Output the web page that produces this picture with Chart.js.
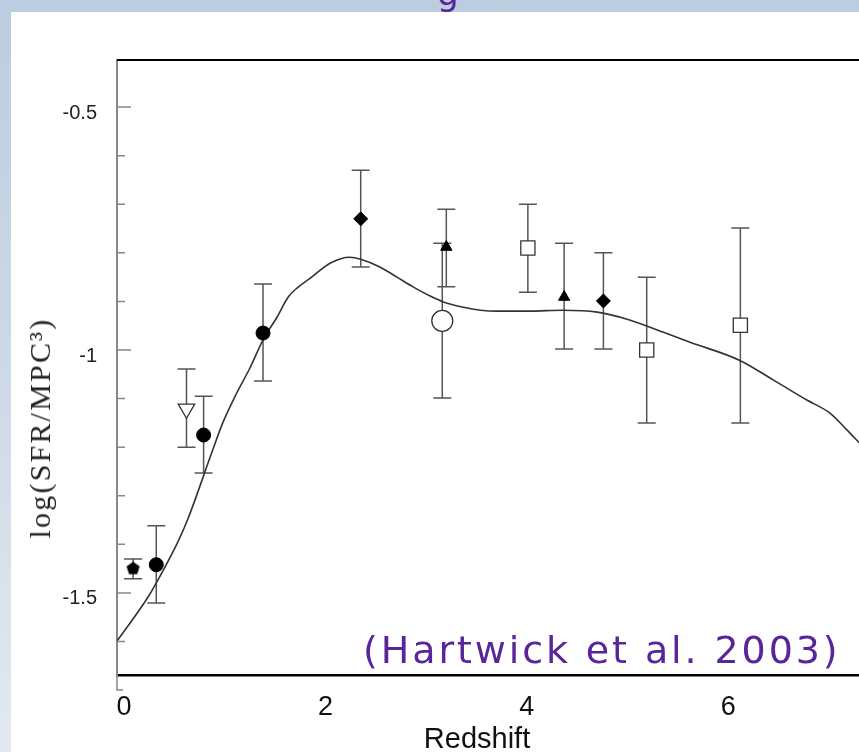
<!DOCTYPE html>
<html><head><meta charset="utf-8">
<script src="https://cdn.jsdelivr.net/npm/chart.js@4.4.1/dist/chart.umd.min.js"></script>
<style>
html,body{margin:0;padding:0;width:859px;height:752px;overflow:hidden;}
body{background:linear-gradient(to bottom,#bccddf 0%,#cbd8e6 45%,#e2e9f1 100%);position:relative;font-family:"Liberation Sans",Arial,sans-serif;}
#panel{position:absolute;left:11px;top:12px;right:0;bottom:0;background:#fff;}
#c{position:absolute;left:0;top:0;}
.t{position:absolute;white-space:nowrap;}
#ytitle{left:40px;top:428px;transform:translate(-50%,-50%) rotate(-90deg);font-family:"Liberation Serif","Times New Roman",serif;font-size:30px;color:#222;letter-spacing:2.2px;line-height:1;}
#xtitle{left:477px;top:738px;transform:translate(-50%,-50%);font-size:29px;color:#111;line-height:1;}
#cite{left:363px;top:632px;font-family:"DejaVu Sans",sans-serif;font-size:38px;line-height:37px;letter-spacing:2.9px;color:#58259a;}
#g{left:437px;top:-24px;font-family:"DejaVu Sans",sans-serif;font-size:34px;line-height:34px;color:#58259a;}
</style></head>
<body>
<div id="panel"></div>
<div class="t" id="g">g</div>
<canvas id="c" width="871" height="752"></canvas>
<div class="t" id="ytitle">log(SFR/MPC³)</div>
<div class="t" id="xtitle">Redshift</div>
<div class="t" id="cite">(Hartwick et al. 2003)</div>
<script>
// ---- tick labels ----
const xTickVals = [0, 2, 4, 6];
const yTickVals = [-1.5, -1, -0.5];
const yMinorTicks = [-1.6, -1.4, -1.3, -1.2, -1.1, -0.9, -0.8, -0.7, -0.6];

// ---- data series (redshift, log SFR density, upper, lower error) ----
const circZ  = [0.32, 0.79, 1.38];
const circV  = [-1.442, -1.175, -0.965];
const circHi = [-1.362, -1.095, -0.864];
const circLo = [-1.521, -1.253, -1.064];

const pentZ  = [0.09];
const pentV  = [-1.449];
const pentHi = [-1.430];
const pentLo = [-1.471];

const triDownZ  = [0.62];
const triDownV  = [-1.121];
const triDownHi = [-1.039];
const triDownLo = [-1.200];

const diamZ  = [2.35, 4.76];
const diamV  = [-0.730, -0.899];
const diamHi = [-0.630, -0.800];
const diamLo = [-0.829, -0.998];

const triZ  = [3.20, 4.37];
const triV  = [-0.788, -0.891];
const triHi = [-0.710, -0.780];
const triLo = [-0.870, -0.998];

const sqZ  = [4.01, 5.19, 6.12];
const sqV  = [-0.790, -1.000, -0.949];
const sqHi = [-0.700, -0.850, -0.749];
const sqLo = [-0.881, -1.150, -1.150];

const ocZ  = [3.16];
const ocV  = [-0.940];
const ocHi = [-0.780];
const ocLo = [-1.099];

// ---- model curve ----
const curveZ = [-0.07, 0.24, 0.39, 0.53, 0.63, 0.88, 0.98, 1.12, 1.25, 1.38, 1.52, 1.63, 1.72, 1.85,
  2.05, 2.24, 2.35, 2.54, 2.71, 2.87, 3.04, 3.17, 3.37, 3.54, 3.70, 4.03, 4.36, 4.70, 5.02, 5.35,
  5.62, 6.11, 6.45, 6.78, 7.01, 7.18, 7.30];
const curveV = [-1.599, -1.508, -1.453, -1.397, -1.350, -1.206, -1.150, -1.088, -1.037, -0.979, -0.932, -0.891, -0.872, -0.852,
  -0.821, -0.809, -0.813, -0.829, -0.850, -0.870, -0.889, -0.901, -0.912, -0.918, -0.920, -0.920, -0.918, -0.922, -0.938, -0.963,
  -0.984, -1.021, -1.062, -1.103, -1.130, -1.165, -1.191];

const zip = (xs, ys) => xs.map((x, i) => ({x: x, y: ys[i]}));

const errSeries = [
  [circZ, circHi, circLo], [pentZ, pentHi, pentLo], [triDownZ, triDownHi, triDownLo],
  [diamZ, diamHi, diamLo], [triZ, triHi, triLo], [sqZ, sqHi, sqLo], [ocZ, ocHi, ocLo]
];

// pentagon marker
const pent = document.createElement('canvas');
pent.width = 15; pent.height = 15;
(function(){
  const g = pent.getContext('2d');
  g.beginPath();
  for (let k = 0; k < 5; k++) {
    const a = -Math.PI/2 + k*2*Math.PI/5;
    const px = 7.5 + 6.9*Math.cos(a), py = 8 + 6.9*Math.sin(a);
    k ? g.lineTo(px, py) : g.moveTo(px, py);
  }
  g.closePath(); g.fillStyle = '#000'; g.fill();
})();

const extras = {
  id: 'extras',
  beforeDatasetsDraw(chart) {
    const {ctx, scales: {x, y}} = chart;
    ctx.save();
    ctx.strokeStyle = '#555'; ctx.lineWidth = 1.5;
    for (const [zs, his, los] of errSeries) {
      for (let i = 0; i < zs.length; i++) {
        const px = x.getPixelForValue(zs[i]);
        const pt = y.getPixelForValue(his[i]);
        const pb = y.getPixelForValue(los[i]);
        ctx.beginPath();
        ctx.moveTo(px, pt); ctx.lineTo(px, pb);
        ctx.moveTo(px - 9, pt); ctx.lineTo(px + 9, pt);
        ctx.moveTo(px - 9, pb); ctx.lineTo(px + 9, pb);
        ctx.stroke();
      }
    }
    ctx.restore();
  },
  afterDraw(chart) {
    const {ctx, chartArea: a, scales: {y}} = chart;
    ctx.save();
    ctx.strokeStyle = '#888'; ctx.lineWidth = 1.5;
    ctx.beginPath();
    for (const v of yTickVals) { const py = y.getPixelForValue(v); ctx.moveTo(a.left, py); ctx.lineTo(a.left + 14, py); }
    for (const v of yMinorTicks) { const py = y.getPixelForValue(v); ctx.moveTo(a.left, py); ctx.lineTo(a.left + 8, py); }
    // axis foot below bottom
    ctx.moveTo(a.left, a.bottom); ctx.lineTo(a.left, a.bottom + 15); ctx.lineTo(a.left + 6, a.bottom + 15);
    ctx.stroke();
    ctx.strokeStyle = '#000'; ctx.lineWidth = 2;
    ctx.beginPath(); ctx.moveTo(a.left, a.top); ctx.lineTo(a.right, a.top); ctx.stroke();
    ctx.restore();
  }
};

new Chart(document.getElementById('c'), {
  type: 'scatter',
  data: {datasets: [
    {label: 'circles', data: zip(circZ, circV), pointStyle: 'circle', pointRadius: 7, backgroundColor: '#000', borderColor: '#000', borderWidth: 1},
    {label: 'pentagon', data: zip(pentZ, pentV), pointStyle: pent, pointRadius: 7},
    {label: 'triangle down', data: zip(triDownZ, triDownV), pointStyle: 'triangle', rotation: 180, pointRadius: 9.5, backgroundColor: '#fff', borderColor: '#333', borderWidth: 1.3},
    {label: 'diamonds', data: zip(diamZ, diamV), pointStyle: 'rectRot', pointRadius: 7, backgroundColor: '#000', borderColor: '#000', borderWidth: 1},
    {label: 'triangles', data: zip(triZ, triV), pointStyle: 'triangle', pointRadius: 6.5, backgroundColor: '#000', borderColor: '#000', borderWidth: 1},
    {label: 'squares', data: zip(sqZ, sqV), pointStyle: 'rect', pointRadius: 10, backgroundColor: '#fff', borderColor: '#333', borderWidth: 1.3},
    {label: 'open circle', data: zip(ocZ, ocV), pointStyle: 'circle', pointRadius: 10.5, backgroundColor: '#fff', borderColor: '#333', borderWidth: 1.3},
    {label: 'model', type: 'line', showLine: true, data: zip(curveZ, curveV), borderColor: '#333', borderWidth: 1.6, pointRadius: 0, fill: false, cubicInterpolationMode: 'monotone'}
  ]},
  options: {
    responsive: false, animation: false, devicePixelRatio: 1,
    layout: {padding: {left: 0, top: 60, right: 0, bottom: 0}},
    plugins: {legend: {display: false}, tooltip: {enabled: false}},
    scales: {
      x: {
        type: 'linear', min: -0.07, max: 7.3,
        afterBuildTicks: s => { s.ticks = xTickVals.map(v => ({value: v})); },
        afterFit: s => { s.height = 77; },
        grid: {display: true, drawOnChartArea: false, drawTicks: false},
        border: {display: true, color: '#000', width: 2.5},
        ticks: {font: {size: 27, family: 'Liberation Sans'}, color: '#111', padding: 16, maxRotation: 0, autoSkip: false, callback: v => String(v)}
      },
      y: {
        type: 'linear', min: -1.669, max: -0.403,
        afterBuildTicks: s => { s.ticks = yTickVals.map(v => ({value: v})); },
        afterFit: s => { s.width = 117; },
        grid: {display: true, drawOnChartArea: false, drawTicks: false},
        border: {display: true, color: '#888', width: 2},
        ticks: {font: {size: 20, family: 'Liberation Sans'}, color: '#222', padding: 20, labelOffset: 6, callback: v => String(v)}
      }
    }
  },
  plugins: [extras]
});
</script>
</body></html>
